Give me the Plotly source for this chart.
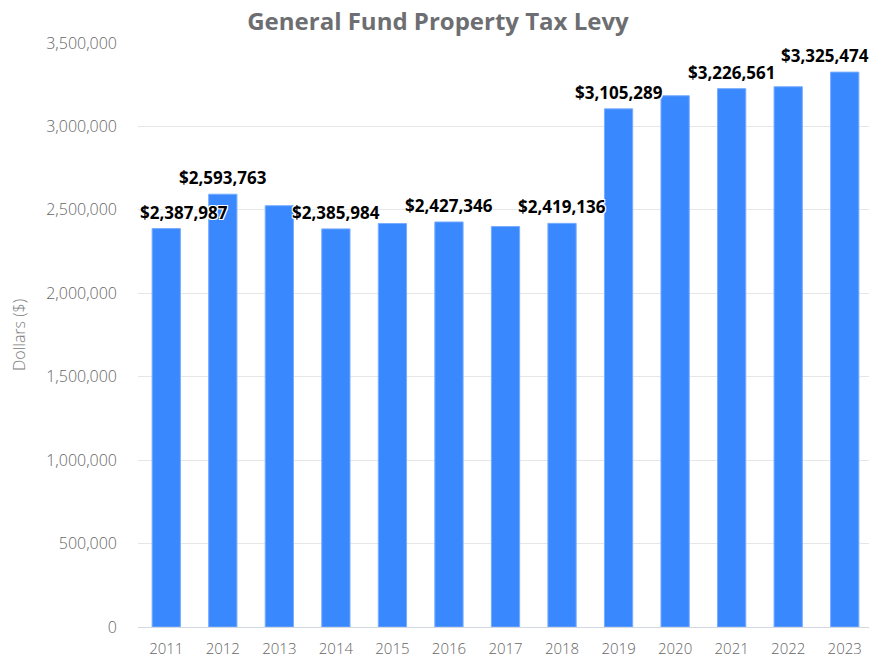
import plotly.graph_objects as go

years = [2011, 2012, 2013, 2014, 2015, 2016, 2017, 2018,
         2019, 2020, 2021, 2022, 2023]
levy = [2387987, 2593763, 2525000, 2385984, 2418000, 2427346, 2400000, 2419136,
        3105289, 3184000, 3226561, 3238000, 3325474]
show_label = [True, True, False, True, False, True, False, True,
              True, False, True, False, True]

tick_vals = [0, 500000, 1000000, 1500000, 2000000, 2500000, 3000000, 3500000]
tick_text = ["0", "500,000", "1,000,000", "1,500,000", "2,000,000",
             "2,500,000", "3,000,000", "3,500,000"]

FONT = "Open Sans"
BAR = "#3a88fe"

fig = go.Figure(go.Bar(
    x=years, y=levy, width=0.5,
    marker=dict(color=BAR, line=dict(color="#78adff", width=1)),
    hoverinfo="x+y",
))

shadow = "-1px -1px 0 #fff, 1px -1px 0 #fff, -1px 1px 0 #fff, 1px 1px 0 #fff"
xshift = {2011: 18, 2023: -20}
for yr, v, s in zip(years, levy, show_label):
    if not s:
        continue
    fig.add_annotation(
        x=yr, y=v, text=f"${v:,}", showarrow=False,
        xanchor="center", yanchor="bottom", yshift=3,
        xshift=xshift.get(yr, 0),
        font=dict(family=FONT, size=17, color="#000", weight="bold", shadow=shadow),
    )

# page body adds an 8px offset; figure sized to fill the remaining window
fig.update_layout(
    width=869, height=649,
    margin=dict(l=130, r=4, t=35, b=30, autoexpand=False),
    paper_bgcolor="white", plot_bgcolor="white",
    title=dict(text="General Fund Property Tax Levy", x=(438 - 8) / 869, xanchor="center",
               y=1 - 14 / 649, yanchor="middle",
               font=dict(family=FONT, size=24, color="#6d6e71", weight="bold")),
    showlegend=False,
)
fig.update_xaxes(
    type="linear", range=[years[0] - 0.5, years[-1] + 0.5],
    tickvals=years, ticktext=[str(y) for y in years],
    showgrid=False, showline=True, linecolor="#d3d8e2", linewidth=1, zeroline=False,
    tickfont=dict(family=FONT, size=15, color="#666666", weight=300),
    ticklabelstandoff=8, automargin=False,
)
fig.update_yaxes(
    range=[0, 3500000], tickvals=tick_vals, ticktext=tick_text,
    showgrid=True, gridcolor="#e6e6e6", gridwidth=1, zeroline=False,
    tickfont=dict(family=FONT, size=16, color="#666666", weight=300),
    ticklabelstandoff=20, automargin=False,
    title=dict(text="Dollars ($)", standoff=26,
               font=dict(family=FONT, size=16, color="#7a7a7a", weight=300)),
)

fig.write_html("out.html")
